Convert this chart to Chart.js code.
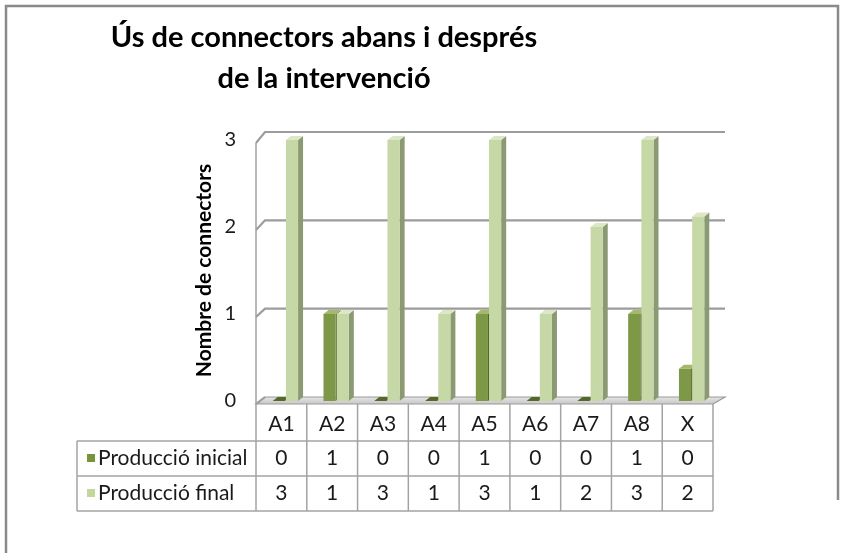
<!DOCTYPE html>
<html>
<head>
<meta charset="utf-8">
<script src="https://cdn.jsdelivr.net/npm/chart.js@4.4.1/dist/chart.umd.min.js"></script>
<style>
  html, body { margin: 0; padding: 0; background: #fff; }
  #wrap { position: relative; width: 844px; height: 553px; }
</style>
</head>
<body>
<div id="wrap"><canvas id="chart" width="844" height="553"></canvas></div>
<script>
const categories = ["A1", "A2", "A3", "A4", "A5", "A6", "A7", "A8", "X"];
const produccioInicial = [0, 1, 0, 0, 1, 0, 0, 1, 0.37];
const produccioFinal = [3, 1, 3, 1, 3, 1, 2, 3, 2.12];
const seriesNames = ["Producció inicial", "Producció final"];
const yTicks = [0, 1, 2, 3];
const titleLines = ["Ús de connectors abans i després", "de la intervenció"];
const yTitle = "Nombre de connectors";

const FONT = "Lato, 'Open Sans', sans-serif";
const colors = {
  inicial: { front: "#7d9846", side: "#55682c", top: "#a3ba6c", key: "#77933c" },
  final: { front: "#c6d8a6", side: "#8c9a73", top: "#dce7c6", key: "#c3d69b" },
  grid: "#9c9c9c",
  table: "#a3a3a3",
};
const DX = 5, DY = 4;

function poly(ctx, pts, fill, stroke) {
  ctx.beginPath();
  ctx.moveTo(pts[0][0], pts[0][1]);
  for (let i = 1; i < pts.length; i++) ctx.lineTo(pts[i][0], pts[i][1]);
  ctx.closePath();
  if (fill) { ctx.fillStyle = fill; ctx.fill(); }
  if (stroke) { ctx.strokeStyle = stroke; ctx.stroke(); }
}

function line(ctx, x1, y1, x2, y2) {
  ctx.beginPath();
  ctx.moveTo(x1, y1);
  ctx.lineTo(x2, y2);
  ctx.stroke();
}

const scenePlugin = {
  id: "scene3d",
  beforeDraw(chart) {
    const ctx = chart.ctx;
    ctx.save();
    ctx.fillStyle = "#fff";
    ctx.fillRect(0, 0, chart.width, chart.height);
    // outer frame
    ctx.strokeStyle = "#8a8a8a";
    ctx.lineWidth = 2.5;
    ctx.beginPath();
    ctx.moveTo(6, 553);
    ctx.lineTo(6, 6);
    ctx.lineTo(838, 6);
    ctx.lineTo(838, 500);
    ctx.stroke();
    // title
    ctx.fillStyle = "#000";
    ctx.font = "bold 29px " + FONT;
    ctx.textAlign = "center";
    ctx.textBaseline = "middle";
    ctx.fillText(titleLines[0], 324, 38);
    ctx.fillText(titleLines[1], 324, 79);
    ctx.restore();
  },
  beforeDatasetsDraw(chart) {
    const ctx = chart.ctx;
    const ca = chart.chartArea;
    const y = chart.scales.y;
    const frontL = ca.left - 4, frontR = ca.right - 4;
    const backL = ca.left + 5, backR = ca.right + 8;
    const floorFront = ca.bottom + 3, floorBack = ca.bottom - 4;
    ctx.save();
    // floor
    const g = ctx.createLinearGradient(0, floorBack, 0, floorFront);
    g.addColorStop(0, "#e4e4e4");
    g.addColorStop(1, "#c8c8c8");
    ctx.lineWidth = 1.2;
    poly(ctx, [[frontL, floorFront], [frontR, floorFront], [backR, floorBack], [backL, floorBack]], g, "#9a9a9a");
    // gridlines on back wall + left wall
    ctx.strokeStyle = colors.grid;
    ctx.lineWidth = 2.2;
    yTicks.forEach((v) => {
      const yb = y.getPixelForValue(v) - 4 - (v / 3) * 4;
      const yf = y.getPixelForValue(v) + 3;
      ctx.beginPath();
      ctx.moveTo(frontL, yf);
      ctx.lineTo(backL, yb);
      if (v > 0) ctx.lineTo(backR, yb);
      ctx.stroke();
    });
    // front vertical axis
    ctx.lineWidth = 1.5;
    ctx.strokeStyle = "#a0a0a0";
    line(ctx, frontL, y.getPixelForValue(3) + 3, frontL, floorFront);
    // 3D side and top faces for every bar (fronts drawn by Chart.js on top)
    chart.data.datasets.forEach((ds, di) => {
      const meta = chart.getDatasetMeta(di);
      const c = di === 0 ? colors.inicial : colors.final;
      meta.data.forEach((el) => {
        const p = el.getProps(["x", "y", "base", "width"], true);
        const l = p.x - p.width / 2, r = p.x + p.width / 2;
        poly(ctx, [[r, p.y], [r + DX, p.y - DY], [r + DX, p.base - DY], [r, p.base]], c.side);
        poly(ctx, [[l, p.y], [r, p.y], [r + DX, p.y - DY], [l + DX, p.y - DY]], p.base - p.y < 1 ? c.side : c.top);
      });
    });
    ctx.restore();
  },
  afterDraw(chart) {
    const ctx = chart.ctx;
    const ca = chart.chartArea;
    const x = chart.scales.x;
    const half = (ca.right - ca.left) / categories.length / 2;
    const frontL = ca.left - 4, frontR = ca.right - 4;
    const top = ca.bottom + 3, r1 = 441, r2 = 476, bottom = 511, labelL = 77;
    ctx.save();
    ctx.strokeStyle = colors.table;
    ctx.lineWidth = 1.5;
    line(ctx, labelL, r1, frontR, r1);
    line(ctx, labelL, r2, frontR, r2);
    line(ctx, labelL, bottom, frontR, bottom);
    line(ctx, labelL, r1, labelL, bottom);
    line(ctx, frontL, top, frontL, bottom);
    categories.forEach((c, i) => {
      const edge = x.getPixelForValue(i) + half - 4;
      line(ctx, edge, top, edge, bottom);
    });
    ctx.fillStyle = "#1a1a1a";
    ctx.font = "21px " + FONT;
    ctx.textBaseline = "middle";
    ctx.textAlign = "center";
    const rows = [produccioInicial, produccioFinal];
    categories.forEach((c, i) => {
      const cx = x.getPixelForValue(i) - 4;
      ctx.fillText(c, cx, 424);
      ctx.fillText(String(Math.round(rows[0][i])), cx, 458);
      ctx.fillText(String(Math.round(rows[1][i])), cx, 493);
    });
    ctx.textAlign = "left";
    [[colors.inicial.key, 458], [colors.final.key, 493]].forEach(([col, cy], k) => {
      ctx.fillStyle = col;
      ctx.fillRect(87, cy - 4, 8, 8);
      ctx.fillStyle = "#1a1a1a";
      ctx.fillText(seriesNames[k], 98, cy);
    });
    ctx.restore();
  },
};

const ctx = document.getElementById("chart").getContext("2d");
const chart = new Chart(ctx, {
  type: "bar",
  data: {
    labels: categories,
    datasets: [
      {
        label: seriesNames[0],
        data: produccioInicial,
        backgroundColor: colors.inicial.front,
        borderWidth: 0,
      },
      {
        label: seriesNames[1],
        data: produccioFinal,
        backgroundColor: colors.final.front,
        borderWidth: 0,
      },
    ],
  },
  options: {
    responsive: false,
    animation: false,
    events: [],
    categoryPercentage: 0.52,
    barPercentage: 0.92,
    layout: { padding: { left: 190, right: 127, top: 140, bottom: 152 } },
    plugins: {
      legend: { display: false },
      title: { display: false },
      tooltip: { enabled: false },
    },
    scales: {
      x: { display: false },
      y: {
        min: 0,
        max: 3,
        afterFit: (scale) => { scale.width = 70; },
        grid: { display: false, drawTicks: false },
        border: { display: false },
        ticks: {
          stepSize: 1,
          padding: 24,
          color: "#1a1a1a",
          font: { family: FONT, size: 20 },
        },
        title: {
          display: true,
          text: yTitle,
          color: "#000",
          font: { family: FONT, size: 21, weight: "bold" },
          padding: { top: 2, bottom: 0 },
        },
      },
    },
  },
  plugins: [scenePlugin],
});
</script>
</body>
</html>
